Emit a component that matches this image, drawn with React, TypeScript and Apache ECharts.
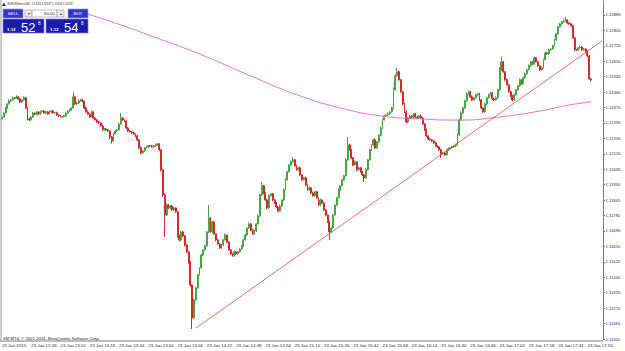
import React, { useEffect, useRef } from 'react';
import * as echarts from 'echarts';

// Prices are stored in points: price = 1.10000 + value / 100000
const PRICE_BASE = 1.1;
const AXIS_BASE = 1100; // 1.11100, lowest price label
const AXIS_STEP = 85; // 0.00085 between price labels
const AXIS_TOP = 1862;

const tickLabels = [
  '23 Jan 2015', '23 Jan 12:46', '23 Jan 13:02', '23 Jan 13:18', '23 Jan 13:34', '23 Jan 13:50',
  '23 Jan 14:06', '23 Jan 14:22', '23 Jan 14:38', '23 Jan 14:54', '23 Jan 15:10', '23 Jan 15:26',
  '23 Jan 15:42', '23 Jan 15:58', '23 Jan 16:14', '23 Jan 16:30', '23 Jan 16:46', '23 Jan 17:02',
  '23 Jan 17:18', '23 Jan 17:34', '23 Jan 17:50',
];

const firstOpen = 2312;

// M1 closes, 12:30 .. 17:52 (each bar opens at the previous close)
const closes = [
  2323, 2345, 2373, 2395, 2411, 2417, 2429, 2426, 2434, 2423,
  2406, 2417, 2429, 2373, 2312, 2307, 2323, 2345, 2338, 2351,
  2340, 2351, 2356, 2345, 2351, 2340, 2351, 2356, 2345, 2347,
  2334, 2329, 2323, 2324, 2329, 2345, 2356, 2362, 2373, 2434,
  2395, 2400, 2411, 2417, 2411, 2373, 2351, 2340, 2323, 2351,
  2318, 2307, 2296, 2290, 2274, 2252, 2257, 2252, 2246, 2213,
  2191, 2230, 2246, 2252, 2285, 2318, 2307, 2301, 2263, 2246,
  2241, 2235, 2230, 2219, 2197, 2153, 2125, 2136, 2153, 2158,
  2164, 2163, 2158, 2164, 2169, 2175, 2142, 2032, 1894, 1783,
  1838, 1822, 1833, 1811, 1822, 1800, 1668, 1646, 1690, 1668,
  1618, 1580, 1525, 1398, 1216, 1315, 1382, 1453, 1492, 1563,
  1591, 1613, 1690, 1767, 1690, 1745, 1679, 1646, 1624, 1602,
  1618, 1646, 1673, 1635, 1591, 1569, 1558, 1580, 1569, 1580,
  1596, 1613, 1646, 1673, 1712, 1734, 1701, 1679, 1695, 1734,
  1778, 1894, 1944, 1905, 1866, 1822, 1889, 1900, 1866, 1849,
  1827, 1805, 1833, 1866, 1922, 1977, 2021, 2059, 2076, 2087,
  2054, 2032, 2043, 2004, 1977, 1988, 1949, 1922, 1933, 1905,
  1889, 1911, 1878, 1838, 1866, 1849, 1811, 1783, 1745, 1690,
  1712, 1783, 1838, 1878, 1922, 1944, 1977, 1999, 2087, 2169,
  2142, 2098, 2059, 2076, 2032, 2043, 2021, 2004, 1988, 2032,
  2087, 2142, 2169, 2197, 2153, 2186, 2224, 2263, 2307, 2329,
  2334, 2340, 2351, 2373, 2473, 2550, 2572, 2528, 2462, 2395,
  2351, 2296, 2318, 2329, 2323, 2340, 2323, 2318, 2329, 2317,
  2285, 2252, 2219, 2202, 2197, 2191, 2180, 2164, 2158, 2142,
  2120, 2125, 2114, 2142, 2147, 2153, 2158, 2164, 2169, 2224,
  2307, 2345, 2373, 2411, 2451, 2462, 2434, 2417, 2429, 2445,
  2451, 2417, 2373, 2351, 2395, 2429, 2445, 2456, 2423, 2417,
  2429, 2473, 2583, 2627, 2572, 2528, 2500, 2462, 2440, 2417,
  2445, 2473, 2495, 2528, 2506, 2539, 2561, 2583, 2605, 2627,
  2616, 2649, 2627, 2605, 2583, 2594, 2638, 2676, 2671, 2693,
  2698, 2715, 2748, 2781, 2819, 2836, 2847, 2852, 2858, 2841,
  2836, 2825, 2759, 2693, 2692, 2704, 2709, 2693, 2698, 2682,
  2660, 2533, 2528,
];

// upper wick above the body, in points
const wickUp = [
  3, 5, 6, 4, 8, 5, 7, 4, 9, 3,
  6, 4, 8, 3, 5, 7, 4, 6, 3, 5,
  4, 7, 3, 6, 5, 4, 8, 3, 6, 4,
  5, 3, 6, 4, 7, 3, 5, 6, 4, 28,
  6, 5, 9, 4, 6, 3, 5, 8, 4, 7,
  3, 6, 4, 5, 3, 7, 5, 4, 6, 3,
  5, 8, 4, 6, 7, 27, 5, 4, 3, 6,
  4, 5, 7, 3, 6, 4, 8, 5, 4, 6,
  5, 3, 6, 4, 7, 5, 4, 3, 6, 8,
  9, 5, 7, 4, 6, 3, 5, 8, 4, 6,
  5, 4, 3, 6, 4, 9, 5, 7, 4, 6,
  3, 7, 5, 71, 4, 6, 5, 3, 7, 4,
  6, 4, 8, 3, 5, 4, 6, 7, 3, 5,
  4, 6, 5, 7, 3, 8, 4, 6, 5, 4,
  7, 9, 21, 5, 4, 6, 8, 3, 5, 6,
  4, 5, 7, 3, 6, 8, 5, 4, 7, 15,
  5, 6, 4, 7, 3, 5, 6, 4, 8, 3,
  6, 4, 5, 3, 7, 4, 6, 5, 3, 6,
  4, 7, 5, 6, 8, 4, 6, 5, 9, 44,
  6, 4, 5, 7, 3, 6, 4, 5, 6, 8,
  5, 7, 4, 6, 8, 5, 4, 7, 6, 5,
  4, 6, 5, 8, 12, 9, 21, 6, 5, 4,
  6, 8, 5, 7, 4, 6, 5, 8, 4, 6,
  5, 4, 7, 3, 6, 5, 4, 6, 3, 5,
  6, 5, 7, 4, 8, 5, 6, 4, 7, 9,
  5, 8, 6, 7, 9, 6, 4, 7, 5, 6,
  4, 6, 5, 3, 7, 5, 8, 6, 4, 5,
  7, 6, 15, 30, 5, 4, 6, 3, 5, 4,
  7, 5, 6, 8, 4, 6, 7, 5, 8, 6,
  5, 7, 4, 6, 5, 8, 6, 7, 5, 6,
  4, 6, 7, 5, 8, 6, 5, 7, 16, 5,
  6, 4, 7, 5, 6, 4, 8, 5, 6, 4,
  7, 5, 4,
];

// lower wick below the body, in points
const wickDn = [
  6, 4, 3, 5, 4, 6, 3, 5, 4, 7,
  5, 6, 4, 5, 8, 6, 4, 3, 5, 4,
  6, 4, 5, 3, 6, 5, 4, 7, 3, 5,
  4, 6, 3, 5, 4, 6, 5, 3, 4, 5,
  6, 4, 5, 3, 6, 7, 4, 5, 6, 4,
  5, 4, 6, 7, 4, 5, 3, 6, 4, 12,
  14, 5, 4, 6, 3, 5, 4, 6, 7, 5,
  4, 6, 5, 7, 5, 8, 6, 4, 5, 3,
  5, 6, 4, 3, 5, 4, 7, 9, 12, 120,
  6, 5, 7, 4, 6, 5, 9, 8, 6, 7,
  8, 6, 9, 10, 61, 7, 5, 6, 4, 5,
  6, 4, 5, 7, 5, 6, 4, 7, 5, 6,
  5, 6, 4, 7, 5, 6, 4, 5, 6, 4,
  5, 4, 6, 3, 5, 4, 7, 5, 4, 6,
  4, 5, 6, 7, 5, 6, 4, 5, 6, 4,
  5, 6, 4, 5, 4, 3, 5, 4, 6, 4,
  6, 5, 4, 7, 5, 4, 6, 5, 4, 6,
  5, 4, 6, 7, 5, 6, 4, 7, 5, 44,
  6, 5, 4, 6, 4, 5, 3, 5, 4, 6,
  5, 7, 6, 4, 6, 5, 4, 6, 23, 5,
  4, 5, 6, 4, 7, 5, 4, 6, 5, 4,
  5, 4, 6, 3, 5, 6, 4, 5, 6, 8,
  6, 7, 5, 4, 6, 5, 4, 6, 5, 4,
  6, 5, 7, 5, 4, 6, 5, 4, 6, 5,
  23, 6, 5, 4, 6, 5, 4, 5, 6, 4,
  5, 4, 6, 5, 4, 6, 7, 5, 4, 6,
  5, 6, 7, 5, 4, 6, 5, 4, 6, 5,
  4, 5, 6, 7, 5, 6, 4, 5, 6, 8,
  6, 5, 4, 6, 5, 4, 6, 5, 4, 6,
  5, 6, 4, 5, 6, 4, 5, 4, 6, 5,
  4, 5, 4, 6, 5, 4, 5, 6, 4, 5,
  6, 5, 4, 7, 6, 4, 5, 6, 4, 5,
  6, 5, 10,
];

// moving average readings: [bar index, value]
const maPoints: [number, number][] = [
  [40, 2915], [47, 2890], [65, 2830], [86, 2753], [108, 2670], [136, 2549], [163, 2439],
  [185, 2373], [207, 2329], [229, 2312], [250, 2306], [272, 2323], [294, 2356], [310, 2389], [322, 2406],
];

// hand-drawn trend line: [bar index, value]
const trendPoints: [number, number][] = [[106, 1160], [328, 2742]];

const lastPrice = 2528;
const headerText = 'EURUSDmicro,M1  1.12533 1.12537 1.12518 1.12528';
const copyright = 'XM MT4, \u00a9 2001-2014, MetaQuotes Software Corp.';

const SLOTS = 329; // bars + chart shift
const START_MIN = 12 * 60 + 30;

const fmtPrice = (u: number) => (PRICE_BASE + (u + AXIS_BASE) / 100000).toFixed(5);

export default function App() {
  const ref = useRef<HTMLDivElement>(null);
  useEffect(() => {
    if (!ref.current) return;
    const chart = echarts.init(ref.current, null, { renderer: 'svg' });
    const categories = Array.from({ length: SLOTS }, (_, i) => {
      const m = START_MIN + i;
      return `${Math.floor(m / 60)}:${String(m % 60).padStart(2, '0')}`;
    });
    const ohlc = closes.map((c, i) => {
      const o = i === 0 ? firstOpen : closes[i - 1];
      const hi = Math.max(o, c) + wickUp[i];
      const lo = Math.min(o, c) - wickDn[i];
      return [o - AXIS_BASE, c - AXIS_BASE, lo - AXIS_BASE, hi - AXIS_BASE];
    });
    const font = 'Liberation Sans';
    const txt = (x: number, y: number, text: string, size: number, fill: string, align = 'left', weight = 'normal') => ({
      type: 'text', x, y, z: 100,
      style: { text, fill, fontSize: size, fontFamily: font, fontWeight: weight, align, textAlign: align, verticalAlign: 'middle', textVerticalAlign: 'middle' },
    });
    const box = (x: number, y: number, w: number, h: number, fill: string, stroke: string) => ({
      type: 'rect', z: 99, shape: { x, y, width: w, height: h }, style: { fill, stroke, lineWidth: 0.7 },
    });
    const option: any = {
      animation: false,
      backgroundColor: '#ffffff',
      grid: { left: 1, top: 1, width: 602, height: 338, containLabel: false, outerBoundsMode: 'none' },
      xAxis: {
        type: 'category',
        data: categories,
        boundaryGap: true,
        axisLine: { show: false },
        axisTick: { show: false },
        splitLine: { show: false },
        axisLabel: {
          interval: 15,
          align: 'left',
          margin: 4,
          fontSize: 4.4,
          fontFamily: font,
          color: '#303030',
          formatter: (_v: string, idx: number) => tickLabels[idx / 16] ?? '',
        },
      },
      yAxis: {
        type: 'value',
        position: 'right',
        min: 0,
        max: AXIS_TOP,
        interval: AXIS_STEP,
        scale: false,
        splitLine: { show: false },
        axisLine: { show: true, lineStyle: { color: '#7a7a7a', width: 1 } },
        axisTick: { show: true, length: 2, lineStyle: { color: '#7a7a7a' } },
        axisLabel: {
          margin: 2.5,
          fontSize: 4.2,
          fontFamily: font,
          color: '#303030',
          showMaxLabel: false,
          formatter: (v: number) => fmtPrice(v),
        },
      },
      series: [
        {
          type: 'candlestick',
          data: ohlc,
          barWidth: 1.4,
          itemStyle: {
            color: '#3a9a3a',
            color0: '#8e0a0a',
            borderColor: '#45a845',
            borderColor0: '#d42a2a',
            borderWidth: 1,
          },
          markLine: {
            silent: true,
            symbol: 'none',
            lineStyle: { opacity: 0 },
            data: [{ yAxis: lastPrice - AXIS_BASE }],
            label: {
              position: 'end',
              distance: 1,
              formatter: () => fmtPrice(lastPrice - AXIS_BASE),
              backgroundColor: '#000000',
              color: '#ffffff',
              fontSize: 4.2,
              fontFamily: font,
              padding: [1, 2, 1, 2],
            },
          },
        },
        {
          type: 'line',
          data: maPoints.map(([i, v]) => [i, v - AXIS_BASE]),
          smooth: true,
          symbol: 'none',
          lineStyle: { color: '#f060c8', width: 0.9 },
          z: 3,
        },
        {
          type: 'line',
          data: trendPoints.map(([i, v]) => [i, v - AXIS_BASE]),
          symbol: 'none',
          lineStyle: { color: '#ff4040', width: 0.8 },
          z: 4,
        },
      ],
      graphic: [
        { type: 'line', z: 50, shape: { x1: 0, y1: 341, x2: 603, y2: 341 }, style: { stroke: '#7a7a7a', lineWidth: 1 } },
        { type: 'line', z: 50, shape: { x1: 1, y1: 0, x2: 1, y2: 341 }, style: { stroke: '#9a9a9a', lineWidth: 1 } },
        { type: 'polygon', z: 100, shape: { points: [[2, 6], [4, 2.5], [6, 6]] }, style: { fill: '#303030' } },
        txt(7.5, 4.5, headerText, 2.7, '#202020'),
        txt(3, 338.5, copyright, 4.2, '#202020'),
        box(3, 9, 20, 9, '#3535c9', '#9a9ae6'),
        txt(13, 13.6, 'SELL', 4.4, '#ffffff', 'center'),
        box(25, 10, 7, 7, '#ececec', '#a0a0a0'),
        txt(28.5, 13.5, '\u25be', 4, '#303030', 'center'),
        box(32, 10, 25, 7, '#ffffff', '#a0a0a0'),
        txt(55, 13.6, '50.00', 4.4, '#202020', 'right'),
        box(57, 10, 7, 7, '#ececec', '#a0a0a0'),
        txt(60.5, 13.5, '\u25b4', 4, '#303030', 'center'),
        box(68, 9, 20, 9, '#3535c9', '#9a9ae6'),
        txt(78, 13.6, 'BUY', 4.4, '#ffffff', 'center'),
        box(3, 19, 41, 14, '#1c1caa', '#7c7cd8'),
        txt(7, 29.5, '1.12', 4.4, '#ffffff', 'left', 'bold'),
        txt(21, 27, '52', 13, '#ffffff'),
        txt(38, 23, '8', 4.6, '#ffffff'),
        box(46, 19, 42, 14, '#1c1caa', '#7c7cd8'),
        txt(50, 29.5, '1.12', 4.4, '#ffffff', 'left', 'bold'),
        txt(64, 27, '54', 13, '#ffffff'),
        txt(81, 23, '8', 4.6, '#ffffff'),
      ],
    };
    chart.setOption(option);
    return () => chart.dispose();
  }, []);
  return (
    <div
      ref={ref}
      style={{ position: 'fixed', left: 0, top: 0, width: 625, height: 351, background: '#ffffff' }}
    />
  );
}
